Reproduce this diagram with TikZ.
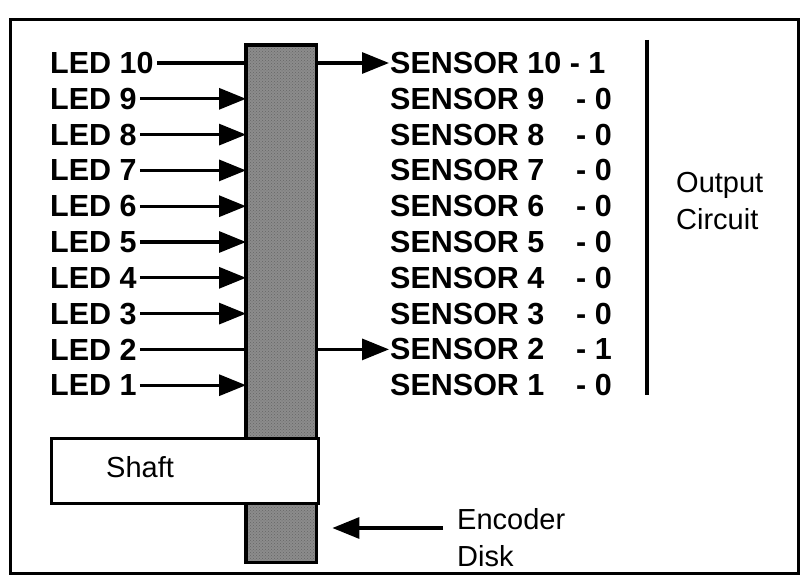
\documentclass[tikz,border=0pt]{standalone}
\usepackage{fontspec}
\setmainfont{Liberation Sans}
\usetikzlibrary{arrows.meta,patterns}
\begin{document}
\begin{tikzpicture}[x=1pt,y=-1pt,
  lbl/.style={font=\fontsize{30.5}{32}\selectfont\bfseries, inner sep=0pt, anchor=west},
  plain/.style={font=\fontsize{29}{37}\selectfont, inner sep=0pt, align=left},
  conn/.style={line width=3.2pt},
  tri/.style={-{Triangle[length=27pt,width=21pt]}},
  frame/.style={line width=3pt}]
\useasboundingbox (0,0) rectangle (804,578);
% outer frame
\draw[frame] (10,20) rectangle (798,573);
% encoder disk
\node[fill=black!45, minimum width=70pt, minimum height=517pt, inner sep=0pt, anchor=north west] (disk) at (246,45) {};
\fill[pattern=crosshatch dots, pattern color=black!60] (disk.north west) rectangle (disk.south east);
\draw[line width=3.2pt] (disk.north west) rectangle (disk.south east);
% shaft
\node[draw, line width=3pt, fill=white, minimum width=267pt, minimum height=65pt, inner sep=0pt, anchor=north west] (shaft) at (50,437) {};
\node[plain, anchor=west] (shafttxt) at (106,467) {Shaft};
% LED labels and connectors
\foreach \i/\t/\arr in {10/LED 10/0, 9/LED 9/1, 8/LED 8/1, 7/LED 7/1, 6/LED 6/1, 5/LED 5/1, 4/LED 4/1, 3/LED 3/1, 2/LED 2/0, 1/LED 1/1} {
  \pgfmathsetmacro{\yy}{63+35.8*(10-\i)}
  \node[lbl] (led\i) at (50,\yy) {\t};
  \coordinate (in\i) at (disk.west |- led\i.east);
  \ifnum\arr=1
    \draw[conn, tri] ([xshift=3pt]led\i.east) -- (in\i);
  \else
    \draw[conn] ([xshift=3pt]led\i.east) -- (in\i);
  \fi
}
% sensor labels
\node[lbl] (sen10) at (390,63) {SENSOR 10 - 1};
\foreach \i/\v in {9/0, 8/0, 7/0, 6/0, 5/0, 4/0, 3/0, 2/1, 1/0} {
  \pgfmathsetmacro{\yy}{63+35.8*(10-\i)}
  \node[lbl] (sen\i) at (390,\yy) {SENSOR \i};
  \node[lbl, anchor=east] (val\i) at (612,\yy) {- \v};
}
\coordinate (out10) at (disk.east |- sen10.west);
\coordinate (out2) at (disk.east |- sen2.west);
\draw[conn, tri] (out10) -- ([xshift=-1pt]sen10.west);
\draw[conn, tri] (out2) -- ([xshift=-1pt]sen2.west);
% output circuit bar
\draw[line width=3.2pt] (647,40) coordinate (bartop) -- (647,395) coordinate (barbot);
\node[plain, anchor=north west] (outc) at (676,172) {Output\\Circuit};
% encoder disk label
\node[plain, anchor=north west] (enc) at (457,508) {Encoder\\Disk};
\draw[conn, tri] ([xshift=-14pt]enc.west |- 0,528) -- ([xshift=16pt]disk.east |- 0,528);
\end{tikzpicture}
\end{document}
